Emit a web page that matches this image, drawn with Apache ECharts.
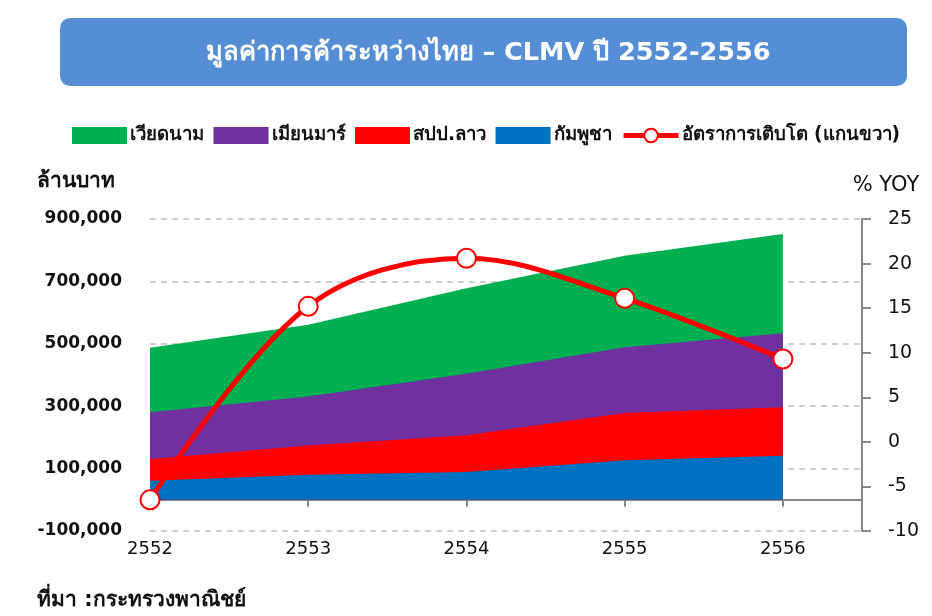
<!DOCTYPE html>
<html><head><meta charset="utf-8">
<script src="https://cdn.jsdelivr.net/npm/echarts@6/dist/echarts.min.js"></script>
<style>html,body{margin:0;padding:0;background:#fff}#c{width:932px;height:616px}</style>
</head><body><div id="c"></div>
<script>
const titleText = 'มูลค่าการค้าระหว่างไทย – CLMV ปี 2552-2556';
const sourceText = 'ที่มา :กระทรวงพาณิชย์';
const years = [2552, 2553, 2554, 2555, 2556];
const seriesNames = ['เวียดนาม', 'เมียนมาร์', 'สปป.ลาว', 'กัมพูชา', 'อัตราการเติบโต (แกนขวา)'];
const vietnam = [206000, 230000, 274000, 293000, 318000];
const myanmar = [150000, 157000, 197000, 211000, 237000];
const laos = [70000, 94000, 118000, 151000, 156000];
const cambodia = [61000, 80000, 89000, 127000, 141000];
const yoy = [-6.5, 15.2, 20.6, 16.1, 9.3];
const leftTicks = [-100000, 100000, 300000, 500000, 700000, 900000];
const rightTicks = [-10, -5, 0, 5, 10, 15, 20, 25];

const FONT = 'Tahoma, "DejaVu Sans", "Noto Sans", sans-serif';
const pairs = arr => years.map((y, i) => [y, arr[i]]);
// cumulative totals for the stacked areas (bottom: Cambodia, then Laos, Myanmar, Vietnam)
const addArr = (a, b) => a.map((v, i) => v + b[i]);
const cumCambodia = cambodia.slice();
const cumLaos = addArr(cumCambodia, laos);
const cumMyanmar = addArr(cumLaos, myanmar);
const cumVietnam = addArr(cumMyanmar, vietnam);

const areaSeries = (name, arr, color) => ({
  name, type: 'line', data: pairs(arr),
  showSymbol: false, symbol: 'none', smooth: false,
  lineStyle: { width: 0, color }, itemStyle: { color },
  areaStyle: { color, opacity: 1 }, z: 2, silent: true
});

const chart = echarts.init(document.getElementById('c'), null, { renderer: 'canvas' });
chart.setOption({
  animation: false,
  backgroundColor: '#fff',
  graphic: [{
    type: 'rect', left: 60, top: 18, z: -10,
    shape: { width: 847, height: 68, r: 10 },
    style: { fill: '#558ED5' }
  }],
  title: [{
    text: titleText, left: 483, top: 35, textAlign: 'center',
    textStyle: { color: '#fff', fontSize: 25.5, fontWeight: 'bold', fontFamily: FONT }
  }, {
    text: sourceText, left: 37, top: 590, padding: 0,
    textStyle: { fontSize: 21, fontWeight: 'bold', color: '#111', fontFamily: FONT }
  }],
  legend: {
    data: [
      { name: seriesNames[0], icon: 'rect' },
      { name: seriesNames[1], icon: 'rect' },
      { name: seriesNames[2], icon: 'rect' },
      { name: seriesNames[3], icon: 'rect' },
      { name: seriesNames[4], lineStyle: { width: 5 } }
    ],
    left: 67, top: 121, itemWidth: 55, itemHeight: 17, itemGap: 9.5,
    textStyle: { fontSize: 18.6, fontWeight: 'bold', color: '#111', fontFamily: FONT, padding: [0, 0, 0, -2] }
  },
  grid: { left: 150, right: 70, top: 219, bottom: 85, containLabel: false },
  xAxis: {
    type: 'value', min: years[0], max: years[years.length - 1] + 0.5, interval: 1,
    axisLine: { show: true, onZero: true, lineStyle: { color: '#878787', width: 2 } },
    axisTick: { show: true, length: 7, lineStyle: { color: '#878787', width: 2 } },
    splitLine: { show: false },
    axisLabel: {
      margin: 9, fontSize: 18, color: '#111', fontFamily: FONT,
      showMaxLabel: false,
      formatter: v => (Number.isInteger(v) ? String(v) : '')
    }
  },
  yAxis: [{
    type: 'value', min: leftTicks[0], max: leftTicks[leftTicks.length - 1],
    interval: leftTicks[1] - leftTicks[0],
    name: 'ล้านบาท', nameLocation: 'end', nameGap: 27,
    nameTextStyle: { align: 'right', padding: [0, 35, 0, 0], fontSize: 21, fontWeight: 'bold', color: '#111', fontFamily: FONT },
    axisLine: { show: false }, axisTick: { show: false },
    splitLine: { show: true, lineStyle: { color: '#BFBFBF', type: [6, 5], width: 1.5 } },
    axisLabel: {
      margin: 28, fontSize: 17, fontWeight: 'bold', color: '#111', fontFamily: FONT,
      formatter: v => v.toLocaleString('en-US')
    }
  }, {
    type: 'value', min: rightTicks[0], max: rightTicks[rightTicks.length - 1],
    interval: rightTicks[1] - rightTicks[0], position: 'right',
    name: '% YOY', nameLocation: 'end', nameGap: 23,
    nameTextStyle: { align: 'center', padding: [0, 0, 0, 48], fontSize: 21, color: '#111', fontFamily: FONT },
    axisLine: { show: true, lineStyle: { color: '#878787', width: 2 } },
    axisTick: { show: true, length: 9, lineStyle: { color: '#878787', width: 2 } },
    splitLine: { show: false },
    axisLabel: { margin: 26, fontSize: 19, color: '#111', fontFamily: FONT }
  }],
  series: [
    areaSeries(seriesNames[0], cumVietnam, '#00B050'),
    areaSeries(seriesNames[1], cumMyanmar, '#7030A0'),
    areaSeries(seriesNames[2], cumLaos, '#FF0000'),
    areaSeries(seriesNames[3], cumCambodia, '#0070C0'),
    {
      name: seriesNames[4], type: 'line', yAxisIndex: 1, data: pairs(yoy),
      smooth: 0.35, symbol: 'circle', symbolSize: 19, showSymbol: true,
      lineStyle: { color: '#FF0000', width: 5 },
      itemStyle: { color: '#fff', borderColor: '#FF0000', borderWidth: 2 },
      z: 5, clip: false
    }
  ]
});
</script></body></html>
